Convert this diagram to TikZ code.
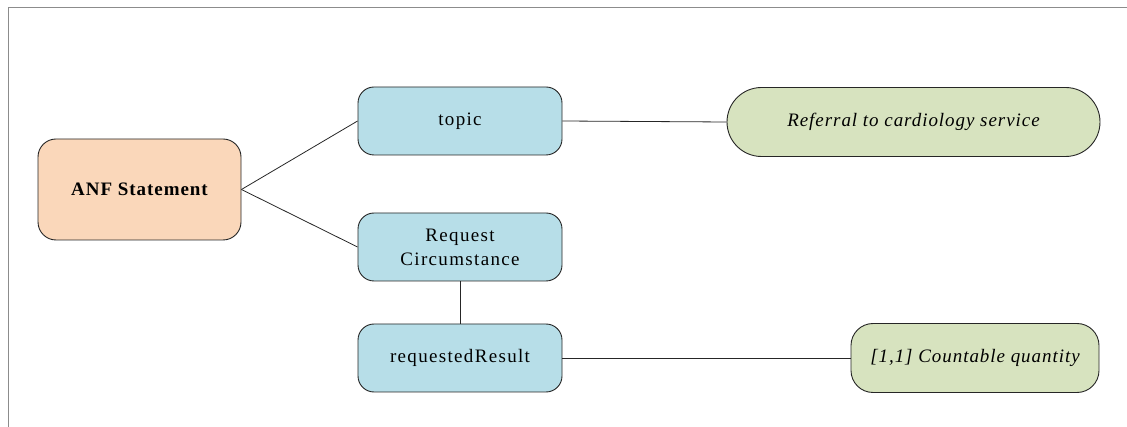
\documentclass[tikz,border=0pt]{standalone}
\usepackage{fontspec}
\setmainfont{Liberation Serif}
\definecolor{peach}{HTML}{FAD7BA}
\definecolor{lblue}{HTML}{B7DEE8}
\definecolor{lgreen}{HTML}{D7E3BF}
\definecolor{frame}{HTML}{8C8C8C}
\tikzset{
  box/.style={draw=black!85, line width=0.9pt, inner sep=0pt, align=center,
    font=\fontsize{19}{24}\selectfont\addfontfeature{LetterSpace=7}},
  rootbox/.style={box, fill=peach, minimum width=203, minimum height=101, rounded corners=18,
    font=\fontsize{19}{24}\selectfont\bfseries\addfontfeature{LetterSpace=5}},
  attrbox/.style={box, fill=lblue, minimum width=204, minimum height=68, rounded corners=16},
  valbox/.style={box, fill=lgreen, minimum height=69,
    font=\fontsize{19}{24}\selectfont\itshape\addfontfeature{LetterSpace=5}},
  link/.style={line width=0.8pt, draw=black!85}
}
\begin{document}
\begin{tikzpicture}[x=1pt,y=-1pt]
\useasboundingbox (0,0) rectangle (1127,427);
\draw[frame, line width=0.8pt] (1127,7) -- (8,7) -- (8,427);
\node[rootbox] (anf) at (139.5,189.5) {ANF Statement};
\node[attrbox] (topic) at (460,121) {topic};
\node[attrbox] (rc) at (460,247) {Request\\Circumstance};
\node[attrbox] (rr) at (460,358) {requestedResult};
\node[valbox, minimum width=373, rounded corners=34.5] (ref) at (913.5,122) {Referral to cardiology service};
\node[valbox, minimum width=248, rounded corners=22] (cq) at (975,358) {[1,1] Countable quantity};
\draw[link] (anf.east) -- (topic.west);
\draw[link] (anf.east) -- (rc.west);
\draw[link] (topic.east) -- (ref.west);
\draw[link] (rc.south) -- (rr.north);
\draw[link] (rr.east) -- (cq.west);
\end{tikzpicture}
\end{document}
